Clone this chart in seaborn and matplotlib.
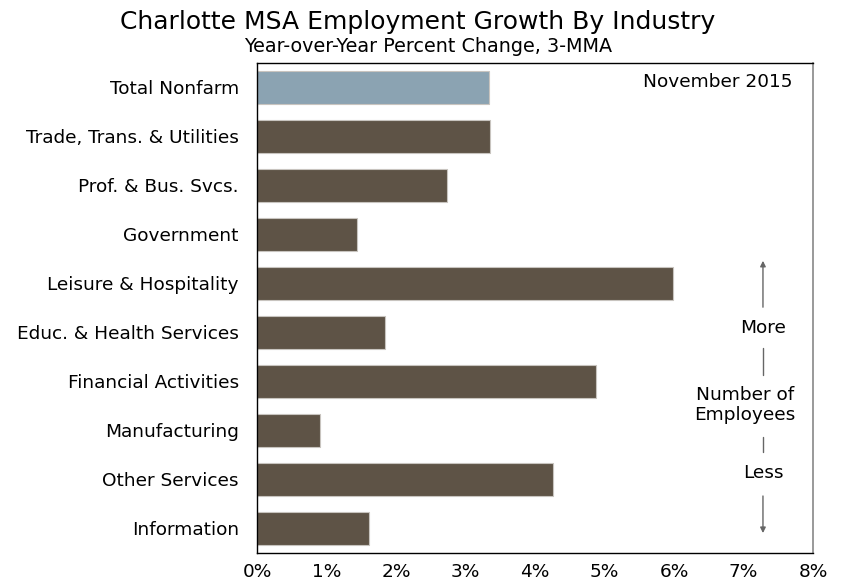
import matplotlib
matplotlib.use("Agg")
import matplotlib.pyplot as plt
import seaborn as sns
import pandas as pd

categories = ["Total Nonfarm", "Trade, Trans. & Utilities", "Prof. & Bus. Svcs.",
              "Government", "Leisure & Hospitality", "Educ. & Health Services",
              "Financial Activities", "Manufacturing", "Other Services", "Information"]
values = [3.34, 3.35, 2.74, 1.44, 5.98, 1.84, 4.88, 0.90, 4.26, 1.61]
xticks = [0, 1, 2, 3, 4, 5, 6, 7, 8]
xticklabels = ["0%", "1%", "2%", "3%", "4%", "5%", "6%", "7%", "8%"]

sns.set_theme(style="white")
plt.rcParams['font.family'] = ['DejaVu Sans']
plt.rcParams['text.color'] = 'black'
plt.rcParams['xtick.color'] = 'black'
plt.rcParams['ytick.color'] = 'black'

df = pd.DataFrame({"cat": categories, "val": values})
colors = ["#8BA3B2"] + ["#5E5346"] * (len(categories) - 1)

FS = 13.3
fig = plt.figure(figsize=(8.46, 5.84), dpi=100)
ax = fig.add_axes([257/846, 1 - 553/584, (813-257)/846, (553-63)/584])
sns.barplot(data=df, x="val", y="cat", hue="cat", palette=colors, legend=False,
            orient="h", width=0.67, ax=ax, edgecolor="#c8c4bf", linewidth=0.8,
            saturation=1)
ax.set_xlim(0, 8)
ax.set_ylim(9.5, -0.5)
ax.set_xticks(xticks)
ax.set_xticklabels(xticklabels, fontsize=FS)
ax.tick_params(axis="x", direction="in", length=6, width=1, color="black", pad=7)
ax.tick_params(axis="y", length=0, labelsize=FS, pad=13)
ax.set_xlabel("")
ax.set_ylabel("")
for s in ["left", "bottom", "top"]:
    ax.spines[s].set_color("black")
    ax.spines[s].set_linewidth(1)
ax.spines["right"].set_color("#888888")
ax.spines["right"].set_linewidth(1.2)

fig.text(418/846, 1 - 22/584, "Charlotte MSA Employment Growth By Industry",
         ha="center", va="center", fontsize=18)
fig.text(428/846, 1 - 46/584, "Year-over-Year Percent Change, 3-MMA",
         ha="center", va="center", fontsize=13.8)

ax.text(7.70, -0.12, "November 2015", ha="right", va="center", fontsize=FS)

ax_x = 7.28
lc = "#666666"
ax.annotate("", xy=(ax_x, 3.48), xytext=(ax_x, 4.54),
            arrowprops=dict(arrowstyle="-|>", color=lc, lw=1.0, mutation_scale=8))
ax.text(ax_x, 4.91, "More", ha="center", va="center", fontsize=FS)
ax.plot([ax_x, ax_x], [5.32, 5.87], color=lc, lw=1.0)
ax.text(7.02, 6.48, "Number of\nEmployees", ha="center", va="center", fontsize=FS,
        linespacing=1.1)
ax.plot([ax_x, ax_x], [7.13, 7.44], color=lc, lw=1.0)
ax.text(ax_x, 7.87, "Less", ha="center", va="center", fontsize=FS)
ax.annotate("", xy=(ax_x, 9.15), xytext=(ax_x, 8.28),
            arrowprops=dict(arrowstyle="-|>", color=lc, lw=1.0, mutation_scale=8))

fig.savefig("out.png", dpi=100)
